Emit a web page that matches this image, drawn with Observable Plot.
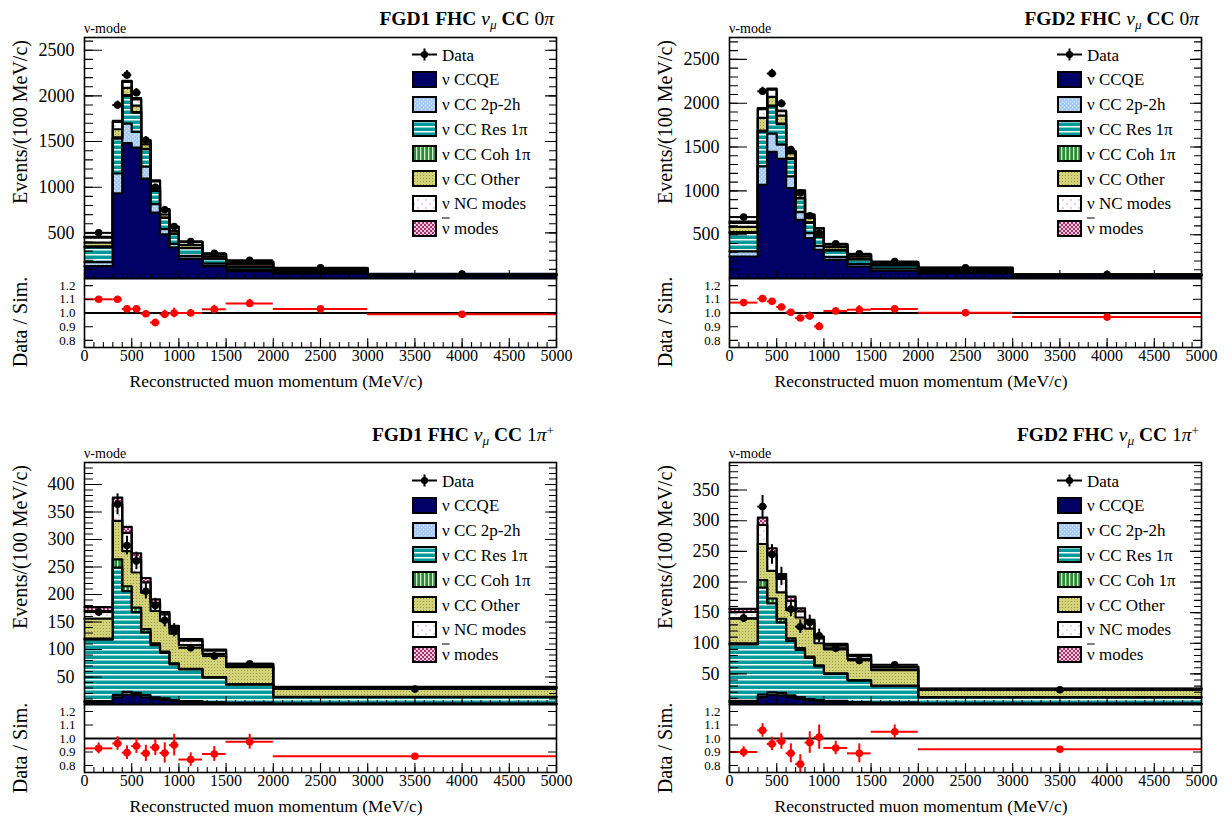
<!DOCTYPE html>
<html><head><meta charset="utf-8">
<script src="https://cdn.jsdelivr.net/npm/d3@7"></script>
<script src="https://cdn.jsdelivr.net/npm/@observablehq/plot@0.6"></script>
<style>
html,body{margin:0;padding:0;background:#fff}
#fig{position:relative;width:1225px;height:821px;overflow:hidden;font-family:"Liberation Serif","Times New Roman",serif;color:#000}
.t{position:absolute;white-space:nowrap}
.v{writing-mode:vertical-rl}
</style>
</head><body>
<svg width="0" height="0" style="position:absolute">
<defs>
<pattern id="p2p2h" width="4" height="4" patternUnits="userSpaceOnUse"><rect width="4" height="4" fill="#a4c9f4"/><rect x="0" y="0" width="1.2" height="1.2" fill="#d8eaff"/><rect x="2" y="2" width="1.2" height="1.2" fill="#d8eaff"/></pattern>
<pattern id="pres" width="6" height="5" patternUnits="userSpaceOnUse"><rect width="6" height="5" fill="#009a9a"/><rect y="2" width="6" height="1.5" fill="#ffffff"/></pattern>
<pattern id="pcoh" width="4" height="4" patternUnits="userSpaceOnUse"><rect width="4" height="4" fill="#2b8a36"/><rect x="1" width="1.3" height="4" fill="#d2ecd2"/></pattern>
<pattern id="pother" width="3" height="3" patternUnits="userSpaceOnUse"><rect width="3" height="3" fill="#d2d27a"/><rect width="1" height="1" fill="#9a9a3c"/></pattern>
<pattern id="pnc" width="8" height="8" patternUnits="userSpaceOnUse"><rect width="8" height="8" fill="#ffffff"/><path d="M2,1L4,3M4,1L2,3M6,5L8,7M8,5L6,7" stroke="#f2b9c4" stroke-width="0.7"/></pattern>
<pattern id="panti" width="4" height="4" patternUnits="userSpaceOnUse"><rect width="4" height="4" fill="#efc6dc"/><path d="M0,0L4,4M4,0L0,4" stroke="#a8336f" stroke-width="1"/></pattern>
</defs>
</svg>
<div id="fig"></div>
<script>
// ---------------- data ----------------
const edges0pi = [0, 300, 400, 500, 600, 700, 800, 900, 1000, 1250, 1500, 2000, 3000, 5000];
const edges1pi = [0, 300, 400, 500, 600, 700, 800, 900, 1000, 1250, 1500, 2000, 5000];
const compNames = ["ν CCQE", "ν CC 2p-2h", "ν CC Res 1π", "ν CC Coh 1π", "ν CC Other", "ν NC modes", "<span style='text-decoration:overline'>ν</span> modes"];

// FGD1 FHC numu CC0pi  (events / 100 MeV/c)
const fgd1_0pi_ccqe  = [135, 934, 1482, 1434, 1095, 723, 485, 340, 218, 135, 80, 55, 30];
const fgd1_0pi_2p2h  = [45, 216, 215, 172, 131, 91, 55, 40, 30, 27, 20, 12, 5];
const fgd1_0pi_res   = [160, 383, 303, 212, 190, 146, 124, 110, 85, 55, 30, 15, 5];
const fgd1_0pi_coh   = [12, 12, 8, 5, 4, 3, 2, 2, 2, 1, 1, 1, 0];
const fgd1_0pi_other = [40, 90, 80, 70, 50, 40, 35, 28, 32, 25, 30, 12, 4];
const fgd1_0pi_nc    = [55, 80, 65, 70, 35, 60, 50, 41, 32, 21, 20, 15, 5];
const fgd1_0pi_anti  = [8, 12, 12, 14, 10, 12, 9, 8, 6, 5, 5, 4, 1];
const fgd1_0pi_data  = [500, 1900, 2230, 2036, 1515, 1000, 752, 569, 405, 277, 200, 117, 50];
const fgd1_0pi_derr  = [13, 44, 47, 45, 39, 32, 27, 24, 13, 11, 6, 3, 2];
const fgd1_0pi_ratio = [1.10, 1.10, 1.03, 1.03, 0.995, 0.93, 0.99, 1.00, 1.00, 1.027, 1.07, 1.03, 0.99];
const fgd1_0pi_rerr  = [0.02, 0.02, 0.02, 0.02, 0.02, 0.025, 0.03, 0.035, 0.025, 0.03, 0.03, 0.02, 0.02];

// FGD2 FHC numu CC0pi
const fgd2_0pi_ccqe  = [251, 1070, 1444, 1364, 1032, 670, 461, 328, 213, 137, 91, 60, 28];
const fgd2_0pi_2p2h  = [58, 210, 209, 164, 134, 88, 57, 45, 31, 27, 23, 12, 5];
const fgd2_0pi_res   = [210, 396, 310, 232, 200, 155, 120, 105, 78, 55, 36, 8, 4];
const fgd2_0pi_coh   = [10, 12, 10, 8, 6, 5, 3, 2, 2, 1, 1, 1, 0];
const fgd2_0pi_other = [60, 145, 99, 91, 55, 57, 50, 50, 35, 28, 18, 15, 3];
const fgd2_0pi_nc    = [45, 100, 84, 50, 20, 25, 32, 38, 27, 23, 15, 22, 5];
const fgd2_0pi_anti  = [15, 10, 10, 8, 8, 6, 8, 8, 6, 5, 4, 5, 1];
const fgd2_0pi_data  = [701, 2137, 2339, 1996, 1470, 975, 716, 518, 396, 282, 194, 123, 45];
const fgd2_0pi_derr  = [15, 46, 48, 45, 38, 31, 27, 23, 13, 11, 6, 4, 2];
const fgd2_0pi_ratio = [1.076, 1.105, 1.085, 1.044, 1.005, 0.963, 0.978, 0.902, 1.015, 1.024, 1.03, 1.002, 0.97];
const fgd2_0pi_rerr  = [0.02, 0.02, 0.02, 0.02, 0.02, 0.02, 0.03, 0.03, 0.025, 0.03, 0.025, 0.02, 0.02];

// FGD1 FHC numu CC1pi+
const fgd1_1pi_ccqe  = [4, 13, 18, 17, 13, 10, 8, 6, 4, 3, 2, 1];
const fgd1_1pi_2p2h  = [2, 4, 5, 4, 4, 3, 3, 2, 2, 1, 1, 0.5];
const fgd1_1pi_res   = [112, 232, 183, 147, 114, 95, 83, 65, 58, 45, 33, 12];
const fgd1_1pi_coh   = [2, 15, 9, 8, 6, 3, 2, 2, 1, 1, 1, 0.5];
const fgd1_1pi_other = [36, 70, 64, 64, 66, 59, 56, 54, 43, 42, 31, 15];
const fgd1_1pi_nc    = [14, 30, 33, 24, 19, 15, 12, 10, 8, 6, 4, 2];
const fgd1_1pi_anti  = [7, 12, 11, 11, 8, 6, 4, 4, 3, 2, 2, 1];
const fgd1_1pi_data  = [168, 364, 289, 261, 206, 180, 153, 135, 103, 88, 74, 28];
const fgd1_1pi_derr  = [7.5, 19, 17, 16, 14, 13, 12, 12, 6, 6, 4, 1.5];
const fgd1_1pi_ratio = [0.927, 0.963, 0.895, 0.944, 0.89, 0.934, 0.893, 0.951, 0.844, 0.885, 0.976, 0.868];
const fgd1_1pi_rerr  = [0.04, 0.05, 0.05, 0.055, 0.06, 0.06, 0.075, 0.08, 0.05, 0.055, 0.055, 0.02];

// FGD2 FHC numu CC1pi+
const fgd2_1pi_ccqe  = [4, 12, 16, 15, 12, 9, 7, 5, 4, 3, 2, 1];
const fgd2_1pi_2p2h  = [2, 4, 4, 4, 3, 3, 2, 2, 2, 1, 1, 0.5];
const fgd2_1pi_res   = [92, 175, 145, 115, 89, 77, 67, 55, 44, 35, 27, 10];
const fgd2_1pi_coh   = [2, 12, 8, 6, 4, 3, 2, 2, 1, 1, 1, 0.5];
const fgd2_1pi_other = [40, 59, 45, 43, 46, 50, 46, 36, 39, 34, 25, 12];
const fgd2_1pi_nc    = [11, 31, 27, 22, 15, 10, 10, 8, 6, 5, 4, 1.5];
const fgd2_1pi_anti  = [5, 12, 10, 8, 7, 5, 4, 3, 3, 2, 2, 0.5];
const fgd2_1pi_data  = [141, 323, 245, 209, 156, 127, 134, 112, 92, 72, 65, 24];
const fgd2_1pi_derr  = [7, 18, 16, 15, 12.5, 11, 12, 11, 6, 5, 4, 1.5];
const fgd2_1pi_ratio = [0.90, 1.06, 0.96, 0.98, 0.89, 0.81, 0.97, 1.01, 0.93, 0.89, 1.05, 0.92];
const fgd2_1pi_rerr  = [0.04, 0.05, 0.05, 0.06, 0.07, 0.07, 0.08, 0.09, 0.05, 0.07, 0.05, 0.02];

// ticks
const xTickLabels = [0, 500, 1000, 1500, 2000, 2500, 3000, 3500, 4000, 4500, 5000];
const yTicks0pi = [500, 1000, 1500, 2000, 2500];
const yTicksFgd1_1pi = [50, 100, 150, 200, 250, 300, 350, 400];
const yTicksFgd2_1pi = [50, 100, 150, 200, 250, 300, 350];
const ratioTicks = [0.8, 0.9, 1.0, 1.1, 1.2];

// ---------------- styles / layout ----------------
const compFills = ["#000066", "url(#p2p2h)", "url(#pres)", "url(#pcoh)", "url(#pother)", "url(#pnc)", "url(#panti)"];
const FONT = "'Liberation Serif','Times New Roman',serif";
const FW = 472;
const SUB = "<sub style='font-size:0.68em;vertical-align:-0.3em;line-height:0'><i>μ</i></sub>";
const SUP = "<sup style='font-size:0.68em;vertical-align:0.45em;line-height:0'>+</sup>";

const panels = [
  {left: 84, top: 37, split: 278, bottom: 347, edges: edges0pi, yMax: 2640, yTicks: yTicks0pi, minorStep: 100,
   comps: [fgd1_0pi_ccqe, fgd1_0pi_2p2h, fgd1_0pi_res, fgd1_0pi_coh, fgd1_0pi_other, fgd1_0pi_nc, fgd1_0pi_anti],
   data: fgd1_0pi_data, derr: fgd1_0pi_derr, ratio: fgd1_0pi_ratio, rerr: fgd1_0pi_rerr,
   title: `<b>FGD1 FHC</b> <i>ν</i>${SUB} <b>CC</b> 0<i>π</i>`, titleY: 18.5, legendY: 54.5},
  {left: 729, top: 37, split: 278, bottom: 347, edges: edges0pi, yMax: 2750, yTicks: yTicks0pi, minorStep: 100,
   comps: [fgd2_0pi_ccqe, fgd2_0pi_2p2h, fgd2_0pi_res, fgd2_0pi_coh, fgd2_0pi_other, fgd2_0pi_nc, fgd2_0pi_anti],
   data: fgd2_0pi_data, derr: fgd2_0pi_derr, ratio: fgd2_0pi_ratio, rerr: fgd2_0pi_rerr,
   title: `<b>FGD2 FHC</b> <i>ν</i>${SUB} <b>CC</b> 0<i>π</i>`, titleY: 18.5, legendY: 54.5},
  {left: 84, top: 462, split: 704, bottom: 772, edges: edges1pi, yMax: 440, yTicks: yTicksFgd1_1pi, minorStep: 10,
   comps: [fgd1_1pi_ccqe, fgd1_1pi_2p2h, fgd1_1pi_res, fgd1_1pi_coh, fgd1_1pi_other, fgd1_1pi_nc, fgd1_1pi_anti],
   data: fgd1_1pi_data, derr: fgd1_1pi_derr, ratio: fgd1_1pi_ratio, rerr: fgd1_1pi_rerr,
   title: `<b>FGD1 FHC</b> <i>ν</i>${SUB} <b>CC</b> 1<i>π</i>${SUP}`, titleY: 434.5, legendY: 480.5},
  {left: 729, top: 462, split: 704, bottom: 772, edges: edges1pi, yMax: 395, yTicks: yTicksFgd2_1pi, minorStep: 10,
   comps: [fgd2_1pi_ccqe, fgd2_1pi_2p2h, fgd2_1pi_res, fgd2_1pi_coh, fgd2_1pi_other, fgd2_1pi_nc, fgd2_1pi_anti],
   data: fgd2_1pi_data, derr: fgd2_1pi_derr, ratio: fgd2_1pi_ratio, rerr: fgd2_1pi_rerr,
   title: `<b>FGD2 FHC</b> <i>ν</i>${SUB} <b>CC</b> 1<i>π</i>${SUP}`, titleY: 434.5, legendY: 480.5}
];

const fig = document.getElementById("fig");

function txt(html, x, y, {size = 16, anchor = "start", weight = "normal", vertical = false} = {}) {
  const d = document.createElement("div");
  d.className = vertical ? "t v" : "t";
  d.innerHTML = html;
  const tx = anchor === "start" ? "0%" : anchor === "middle" ? "-50%" : "-100%";
  d.style.left = x + "px";
  d.style.top = y + "px";
  d.style.fontSize = size + "px";
  d.style.lineHeight = size + "px";
  d.style.fontWeight = weight;
  d.style.transform = vertical ? "translate(-50%,-50%) rotate(180deg)" : `translate(${tx},-50%)`;
  fig.appendChild(d);
  return d;
}

const tickShape = {draw(ctx, l) { ctx.moveTo(0, 0); ctx.lineTo(0, -l); }};
function ticks(values, side, len, w = 1.1) {
  const rot = {left: 90, right: -90, bottom: 0}[side];
  const ch = side === "bottom" ? {x: d => d} : {y: d => d};
  return Plot.vector(values, {...ch, frameAnchor: side, length: len, rotate: rot, anchor: "start",
    shape: tickShape, stroke: "black", strokeWidth: w});
}

const ML = 80, MR = 12;

function place(svg, left, top, sizes) {
  svg.style.position = "absolute";
  svg.style.left = left + "px";
  svg.style.top = top + "px";
  svg.style.maxWidth = "none";
  for (const [label, size] of Object.entries(sizes)) {
    svg.querySelectorAll(`[aria-label="${label}"]`).forEach(g => {
      g.setAttribute("font-size", size);
      g.style.fontSize = size + "px";
    });
  }
  fig.appendChild(svg);
}

panels.forEach(p => {
  const n = p.edges.length - 1;
  const rects = [];
  const cums = p.comps.map(() => []);
  for (let i = 0; i < n; i++) {
    let c = 0;
    p.comps.forEach((arr, k) => {
      const y1 = c; c += arr[i];
      rects.push({k, x1: p.edges[i], x2: p.edges[i + 1], y1, y2: c});
      cums[k].push(c);
    });
  }
  const pts = p.data.map((v, i) => ({x1: p.edges[i], x2: p.edges[i + 1], xc: (p.edges[i] + p.edges[i + 1]) / 2, v, e: p.derr[i]}));
  const rpts = p.ratio.map((v, i) => ({x1: p.edges[i], x2: p.edges[i + 1], xc: (p.edges[i] + p.edges[i + 1]) / 2, v, e: p.rerr[i]}));

  const minorY = d3.range(p.minorStep, p.yMax, p.minorStep);
  const minorX = d3.range(0, 5001, 100);

  const MT = 5;
  const upper = Plot.plot({
    width: ML + FW + MR, height: MT + (p.split - p.top),
    marginLeft: ML, marginRight: MR, marginTop: MT, marginBottom: 0,
    x: {domain: [0, 5000], axis: null, label: null},
    y: {domain: [0, p.yMax], label: null},
    style: {fontFamily: FONT, fontSize: "18px", background: "transparent", overflow: "visible", color: "black"},
    marks: [
      ...compFills.map((f, k) => Plot.rect(rects.filter(r => r.k === k), {x1: "x1", x2: "x2", y1: "y1", y2: "y2", fill: f, shapeRendering: "crispEdges"})),
      ...cums.map(c => Plot.line(p.edges.map((e, i) => ({x: e, y: c[Math.min(i, n - 1)]})), {x: "x", y: "y", curve: "step-after", stroke: "black", strokeWidth: 2.2})),
      Plot.ruleY(pts, {x1: "x1", x2: "x2", y: "v", stroke: "black", strokeWidth: 2}),
      Plot.ruleX(pts, {x: "xc", y1: d => d.v - d.e, y2: d => d.v + d.e, stroke: "black", strokeWidth: 2}),
      Plot.dot(pts, {x: "xc", y: "v", r: 3.8, fill: "black"}),
      Plot.axisY(p.yTicks, {anchor: "left", tickSize: 0, tickPadding: 10, fontSize: 18, tickFormat: d => String(d), label: null}),
      ticks(p.yTicks, "left", 17),
      ticks(minorY, "left", 8),
      ticks(p.yTicks, "right", 11),
      ticks(minorY, "right", 7),
      ticks(xTickLabels, "bottom", 8),
      ticks(minorX, "bottom", 4),
      Plot.frame({stroke: "black", strokeWidth: 1.6})
    ]
  });
  place(upper, p.left - ML, p.top - MT, {"y-axis tick label": 18});

  const MB = 45;
  const lower = Plot.plot({
    width: ML + FW + MR, height: (p.bottom - p.split) + MB,
    marginLeft: ML, marginRight: MR, marginTop: 0, marginBottom: MB,
    x: {domain: [0, 5000], label: null},
    y: {domain: [0.748, 1.252], label: null},
    style: {fontFamily: FONT, fontSize: "16px", background: "transparent", overflow: "visible", color: "black"},
    marks: [
      Plot.ruleY([1], {stroke: "black", strokeWidth: 2}),
      Plot.ruleY(rpts, {x1: "x1", x2: "x2", y: "v", stroke: "#ff0000", strokeWidth: 2}),
      Plot.ruleX(rpts, {x: "xc", y1: d => d.v - d.e, y2: d => d.v + d.e, stroke: "#ff0000", strokeWidth: 2}),
      Plot.dot(rpts, {x: "xc", y: "v", r: 3.8, fill: "#ff0000"}),
      Plot.axisY(ratioTicks, {anchor: "left", tickSize: 0, tickPadding: 9, fontSize: 13, tickFormat: d3.format(".1f"), label: null}),
      Plot.axisX(xTickLabels, {anchor: "bottom", tickSize: 0, tickPadding: 2, fontSize: 16, tickFormat: d => String(d), label: null}),
      ticks(ratioTicks, "left", 8),
      ticks(ratioTicks, "right", 8),
      ticks(xTickLabels, "bottom", 9),
      ticks(minorX, "bottom", 5),
      Plot.frame({stroke: "black", strokeWidth: 1.6})
    ]
  });
  place(lower, p.left - ML, p.split, {"y-axis tick label": 13, "x-axis tick label": 16});

  // texts
  txt("ν-mode", p.left, p.top - 8.5, {size: 14});
  txt(p.title, p.left + FW - 2, p.titleY, {size: 19.5, anchor: "end"});
  txt("Events/(100 MeV/c)", p.left - 64, p.top + 85, {size: 20, vertical: true});
  txt("Data / Sim.", p.left - 64, p.split + 44, {size: 20, vertical: true});
  txt("Reconstructed muon momentum (MeV/c)", p.left + 192, p.bottom + 35, {size: 17.5, anchor: "middle"});

  // legend
  const bx = p.left + 328, step = 24.8;
  const ns = "http://www.w3.org/2000/svg";
  const mk = (y, inner) => {
    const s = document.createElementNS(ns, "svg");
    s.setAttribute("width", 27); s.setAttribute("height", 19);
    s.style.position = "absolute"; s.style.left = (bx - 1) + "px"; s.style.top = (y - 9.5) + "px";
    s.innerHTML = inner;
    fig.appendChild(s);
  };
  mk(p.legendY, `<line x1="1" x2="26" y1="9.5" y2="9.5" stroke="black" stroke-width="2"/><line x1="13.5" x2="13.5" y1="3.5" y2="15.5" stroke="black" stroke-width="2"/><circle cx="13.5" cy="9.5" r="3.6" fill="black"/>`);
  txt("Data", bx + 30, p.legendY, {size: 17});
  compNames.forEach((name, k) => {
    const y = p.legendY + step * (k + 1);
    mk(y, `<rect x="2" y="2" width="23" height="15" fill="${compFills[k]}" stroke="black" stroke-width="2"/>`);
    txt(name, bx + 30, y, {size: 17});
  });
});
</script>
</body></html>
